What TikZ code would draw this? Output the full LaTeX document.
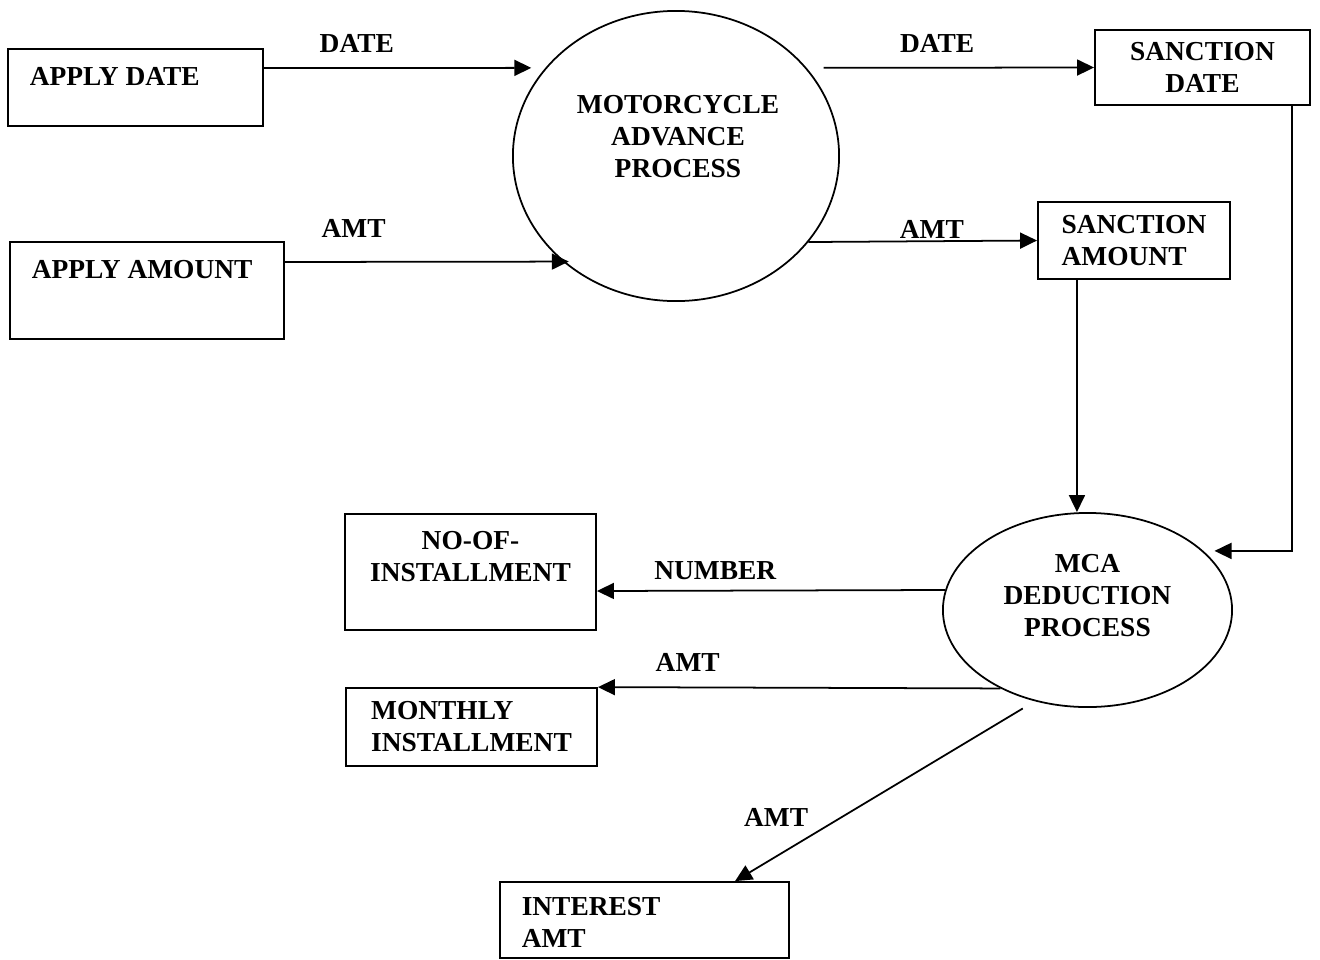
\documentclass[tikz,border=0pt]{standalone}
\usepackage{fontspec}
\setmainfont{Liberation Serif}
\usetikzlibrary{arrows.meta,shapes.geometric}

\tikzset{
  box/.style={draw,line width=0.5pt,rectangle,inner sep=0pt},
  proc/.style={draw,line width=0.5pt,ellipse,inner sep=0pt},
  txt/.style={font=\fontsize{7.8}{9.1}\selectfont\bfseries,align=center,inner sep=0pt},
  lbl/.style={font=\fontsize{7.8}{9.1}\selectfont\bfseries,inner sep=0pt},
  flow/.style={line width=0.5pt,-{Triangle[length=0.17cm,width=0.16cm]}}
}

\begin{document}
\begin{tikzpicture}[x=0.01cm,y=-0.01cm]
\useasboundingbox (0,0) rectangle (1320,960);

% processes
\node[proc,minimum width=3.26cm,minimum height=2.9cm] (mcp) at (676,156) {};
\node[txt] (mcp-t) at ([xshift=0.02cm,yshift=0.19cm]mcp.center) {MOTORCYCLE\\ADVANCE\\PROCESS};
\node[proc,minimum width=2.89cm,minimum height=1.94cm] (mca) at (1087.5,610) {};
\node[txt] (mca-t) at ([yshift=0.14cm]mca.center) {MCA\\DEDUCTION\\PROCESS};

% stores
\node[box,minimum width=2.55cm,minimum height=0.77cm] (ad) at (135.5,87.5) {};
\node[txt,anchor=west] (ad-t) at ([xshift=0.22cm,yshift=-0.28cm]ad.north west) {APPLY DATE};
\node[box,minimum width=2.74cm,minimum height=0.97cm] (aa) at (147,290.5) {};
\node[txt,anchor=west] (aa-t) at ([xshift=0.22cm,yshift=-0.28cm]aa.north west) {APPLY AMOUNT};

\node[box,txt,minimum width=2.15cm,minimum height=0.75cm] (sd) at (1202.5,67.5) {SANCTION\\DATE};
\node[box,txt,align=left,minimum width=1.92cm,minimum height=0.77cm] (sa) at (1134,240.5) {SANCTION\\AMOUNT};

\node[box,minimum width=2.51cm,minimum height=1.16cm] (noi) at (470.5,572) {};
\node[txt] (noi-t) at ([yshift=0.155cm]noi.center) {NO-OF-\\INSTALLMENT};
\node[box,txt,align=left,minimum width=2.51cm,minimum height=0.78cm] (mi) at (471.5,727) {MONTHLY\\INSTALLMENT};
\node[box,minimum width=2.89cm,minimum height=0.76cm] (ia) at (644.5,920) {};
\node[txt,anchor=west,align=left] (ia-t) at ([xshift=0.22cm,yshift=-0.415cm]ia.north west) {INTEREST\\AMT};

\coordinate (sa-out) at ([xshift=-0.57cm]sa.south);
\coordinate (sd-out) at ([xshift=0.895cm]sd.south);

% flows
\draw[flow,shorten >=0.14cm] ([yshift=0.195cm]ad.east) -- (mcp.146) node[lbl,pos=0.33,yshift=0.24cm] {DATE};
\draw[flow,shorten >=-0.06cm] ([yshift=0.285cm]aa.east) -- (mcp.223) node[lbl,pos=0.247,yshift=0.33cm] {AMT};
\draw[flow,shorten <=0.17cm] (mcp.34) -- (sd.west) node[lbl,pos=0.454,yshift=0.24cm] {DATE};
\draw[flow] (mcp.327) -- (sa.west) node[lbl,pos=0.54,yshift=0.12cm] {AMT};

\draw[flow] (sa-out) -- (sa-out |- mca.north);
\draw[flow,shorten >=0.11cm] (sd-out) |- (mca.27);

\draw[flow] (mca.172) -- ([yshift=-0.19cm]noi.east) node[lbl,pos=0.66,yshift=0.2cm] {NUMBER};
\draw[flow] (mca.222) -- (mi.north east) node[lbl,pos=0.777,yshift=0.25cm] {AMT};
\draw[flow,shorten <=0.14cm] (mca.240) -- ([xshift=0.905cm]ia.north) node[lbl,pos=0.863,yshift=0.39cm] {AMT};

\end{tikzpicture}
\end{document}
